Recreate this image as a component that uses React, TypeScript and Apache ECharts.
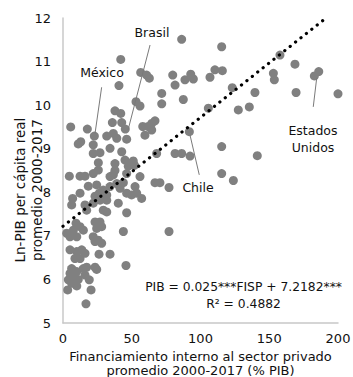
import React, { useEffect, useRef } from "react";
import * as echarts from "echarts";

const xTicks = [0, 50, 100, 150, 200];
const yTicks = [5, 6, 7, 8, 9, 10, 11, 12];

// Financiamiento interno al sector privado (% PIB)
const fispValues = [
  86.3, 115.4, 79.8, 81.5, 88.7, 92.9, 94.8, 106.9, 110.5, 115.9, 123.1, 139.6, 153.0, 153.7, 157.8, 168.7,
  182.8, 186.0, 169.5, 200.0, 87.5, 105.7, 127.5, 135.5, 91.9, 81.5, 86.3, 92.4, 115.4, 141.3, 115.4, 123.9,
  66.9, 70.5, 77.1, 77.1, 60.8, 62.8, 71.8, 71.8, 66.9, 64.5, 62.0, 64.5, 59.6, 68.1, 42.0, 40.7,
  56.5, 53.1, 56.0, 37.8, 42.0, 35.9, 42.7, 45.3, 5.6, 17.7, 22.8, 12.9, 11.1, 31.8, 36.6, 39.1,
  46.3, 58.0, 22.0, 26.9, 22.0, 34.2, 42.7, 25.7, 37.8, 45.1, 48.7, 51.1, 4.6, 12.4, 16.0, 22.0,
  25.7, 18.4, 36.6, 37.8, 46.3, 47.5, 52.0, 56.0, 43.9, 52.4, 6.3, 7.0, 12.4, 24.5, 26.4, 23.3,
  29.3, 31.8, 34.2, 39.1, 41.5, 46.3, 49.9, 53.6, 57.2, 40.2, 46.3, 31.8, 29.3, 16.0, 17.2, 9.5,
  12.4, 7.5, 14.8, 2.7, 5.1, 10.0, 23.3, 26.9, 24.5, 28.1, 22.0, 25.7, 28.1, 23.3, 43.9, 5.1,
  10.0, 13.6, 16.0, 12.4, 8.7, 26.2, 34.2, 6.3, 5.1, 10.0, 14.8, 17.2, 16.0, 23.3, 24.5, 45.8,
  3.9, 7.5, 11.1, 6.3, 3.4, 10.0, 19.1, 20.4, 16.7, 34.2, 22.0, 26.9, 31.8
];

// Ln-PIB per cápita real
const lnPibValues = [
  11.51, 11.34, 10.69, 10.46, 10.58, 10.71, 10.6, 10.64, 10.81, 10.79, 10.4, 10.29, 10.73, 10.58, 11.15, 10.94,
  10.67, 10.77, 10.29, 10.26, 10.13, 9.93, 9.89, 9.96, 9.39, 8.89, 8.89, 8.83, 9.05, 8.84, 8.43, 8.27,
  8.22, 8.22, 8.11, 7.1, 10.69, 10.62, 10.27, 10.03, 9.64, 9.58, 9.51, 9.43, 9.31, 8.89, 11.05, 10.45,
  10.75, 10.08, 9.98, 9.87, 9.81, 9.6, 9.6, 9.45, 9.5, 9.45, 9.29, 9.16, 9.11, 9.29, 9.35, 9.24,
  9.22, 9.51, 9.09, 8.91, 8.89, 9.01, 8.93, 8.68, 8.66, 8.74, 8.66, 8.72, 8.37, 8.37, 8.37, 8.43,
  8.51, 8.14, 8.4, 8.5, 8.43, 8.6, 8.62, 8.36, 8.22, 8.13, 7.71, 7.86, 7.98, 8.17, 7.98, 7.91,
  8.05, 7.94, 8.13, 8.2, 8.09, 7.98, 7.94, 7.98, 7.86, 7.75, 7.53, 7.55, 7.59, 7.71, 7.59, 7.29,
  7.21, 7.13, 7.13, 7.06, 6.98, 6.98, 7.32, 7.32, 7.17, 7.21, 6.98, 6.9, 6.83, 6.87, 7.1, 6.68,
  6.64, 6.68, 6.6, 6.48, 6.48, 6.58, 6.58, 6.25, 6.14, 6.18, 6.25, 6.28, 6.1, 6.28, 6.23, 6.32,
  5.99, 6.03, 6.0, 5.91, 5.76, 5.85, 5.99, 5.76, 5.44, 8.36, 7.75, 7.82, 7.82
];

const slope = 0.025;
const intercept = 7.2182;
const fitRange = [0, 191.3];

// Annotations in data coordinates: label position, line start, line end
const annLabels = ["Brasil", "México", "Chile", "Estados\nUnidos"];
const annTextPos = [[64.7, 11.66], [28.4, 10.74], [98.2, 8.1], [181.8, 9.22]];
const annLineFrom = [[63.3, 11.38], [28.1, 10.41], [92.4, 9.31], [184.5, 10.62]];
const annLineTo = [[47.3, 9.43], [23.3, 9.35], [99.1, 8.4], [182.0, 9.96]];

const eqLines = ["PIB = 0.025***FISP + 7.2182***", "R² = 0.4882"];
const eqPos = [[131.3, 5.83], [131.3, 5.44]];

const yName = ["Ln-PIB per cápita real", "promedio 2000-2017"];
const yNameCenter = 8.05;
const xName = "Financiamiento interno al sector privado\npromedio 2000-2017 (% PIB)";

const FONT = "DejaVu Sans";

export default function App() {
  const ref = useRef<HTMLDivElement>(null);
  useEffect(() => {
    if (!ref.current) return;
    const chart = echarts.init(ref.current, undefined, { renderer: "svg" });
    const points = fispValues.map((v, i) => [v, lnPibValues[i]]);
    const fit = fitRange.map((x) => [x, intercept + slope * x]);
    chart.setOption({
      animation: false,
      grid: { left: 63, right: 15, top: 18, bottom: 54, outerBoundsMode: "none", containLabel: false },
      xAxis: {
        type: "value",
        min: xTicks[0],
        max: xTicks[xTicks.length - 1],
        interval: 50,
        axisLine: { show: true, lineStyle: { color: "#c8c8c8", width: 1.5 } },
        axisTick: { show: false },
        splitLine: { show: false },
        axisLabel: { color: "#111", fontSize: 13, fontFamily: FONT, margin: 9 },
        name: xName,
        nameLocation: "middle",
        nameGap: 20,
        nameTextStyle: { color: "#111", fontSize: 13, fontFamily: FONT, lineHeight: 13.5 },
      },
      yAxis: {
        type: "value",
        min: yTicks[0],
        max: yTicks[yTicks.length - 1],
        interval: 1,
        axisLine: { show: true, lineStyle: { color: "#c8c8c8", width: 1.5 } },
        axisTick: { show: false },
        splitLine: { show: false },
        axisLabel: { color: "#111", fontSize: 13, fontFamily: FONT, margin: 12 },
      },
      series: [
        {
          type: "scatter",
          data: points,
          symbolSize: 9,
          itemStyle: { color: "#808080", opacity: 1 },
          z: 2,
        },
        {
          type: "line",
          data: fit,
          symbol: "none",
          lineStyle: { color: "#000", width: 3.2, type: [0.1, 6.8], cap: "round" },
          z: 3,
        },
      ],
    });
    const px = (p: number[]) => chart.convertToPixel({ seriesIndex: 0 }, p) as number[];
    const graphics: any[] = [];
    annLabels.forEach((t, i) => {
      const a = px(annLineFrom[i]);
      const b = px(annLineTo[i]);
      graphics.push({
        type: "line",
        shape: { x1: a[0], y1: a[1], x2: b[0], y2: b[1] },
        style: { stroke: "#7a7a7a", lineWidth: 1 },
        z: 10,
      });
      const c = px(annTextPos[i]);
      graphics.push({
        type: "text",
        x: c[0],
        y: c[1],
        style: {
          text: t,
          fontSize: 12.5,
          fontFamily: FONT,
          fill: "#111",
          align: "center",
          verticalAlign: "middle",
          lineHeight: 17,
        },
        z: 10,
      });
    });
    eqLines.forEach((t, i) => {
      const c = px(eqPos[i]);
      graphics.push({
        type: "text",
        x: c[0],
        y: c[1],
        style: { text: t, fontSize: 12.3, fontFamily: FONT, fill: "#111", align: "center", verticalAlign: "middle" },
        z: 10,
      });
    });
    const midY = px([0, yNameCenter])[1];
    graphics.push({
      type: "text",
      x: 20,
      y: midY,
      rotation: Math.PI / 2,
      style: { text: yName[0], fontSize: 13.5, fontFamily: FONT, fill: "#111", align: "center", verticalAlign: "middle" },
    });
    graphics.push({
      type: "text",
      x: 37,
      y: midY,
      rotation: Math.PI / 2,
      style: { text: yName[1], fontSize: 13.5, fontFamily: FONT, fill: "#111", align: "center", verticalAlign: "middle" },
    });
    chart.setOption({ graphic: graphics });
    return () => chart.dispose();
  }, []);
  return (
    <div
      ref={ref}
      style={{ position: "fixed", left: 0, top: 0, width: 353, height: 377, background: "#fff" }}
    />
  );
}
